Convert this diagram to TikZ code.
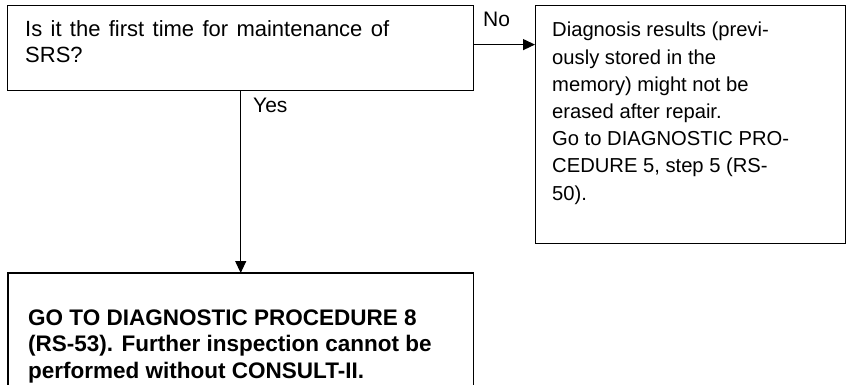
\documentclass[tikz,border=0pt]{standalone}
\usepackage{fontspec}
\setmainfont{Liberation Sans}
\usetikzlibrary{arrows.meta}
\begin{document}
\begin{tikzpicture}[x=1pt,y=-1pt,
  box/.style={draw, line width=1.2pt, inner sep=0pt, anchor=north west},
  openbox/.style={inner sep=0pt, anchor=north west},
  txt/.style={anchor=base west, inner sep=0pt, align=left},
  lbl/.style={anchor=base west, inner sep=0pt, font=\fontsize{21}{26}\selectfont},
  arr/.style={line width=1.2pt, -{Triangle[length=12pt,width=11pt]}}]
\useasboundingbox (0,0) rectangle (846,385);
% boxes
\node[box, minimum width=466pt, minimum height=85pt] (b1) at (7,5) {};
\node[box, minimum width=310pt, minimum height=238pt] (b2) at (535,5) {};
\node[openbox, minimum width=465pt, minimum height=122pt] (b3) at (8,273) {};
\draw[line width=1.2pt] (b3.south west) -- (b3.north west) -- (b3.north east) -- (b3.south east);
% texts (base anchor = last line's baseline)
\node[txt, font=\fontsize{22}{26}\selectfont] (t1) at (25,63) {\makebox[364pt][s]{Is it the first time for maintenance of}\\SRS?};
\node[txt, font=\fontsize{20.2}{27.2}\selectfont] (t2) at (552,200) {Diagnosis results (previ-\\ously stored in the\\memory) might not be\\erased after repair.\\Go to DIAGNOSTIC PRO-\\CEDURE 5, step 5 (RS-\\50).};
\node[txt, font=\fontsize{22.5}{26.5}\selectfont\bfseries] (t3) at (28,378) {GO TO DIAGNOSTIC PROCEDURE 8\\(RS-53). Further inspection cannot be\\performed without CONSULT-II.};
% connectors
\draw[arr] ([yshift=3.5pt]b1.east) -- ([yshift=3.5pt]b1.east -| b2.west);
\draw[arr] (b3.north |- b1.south) -- (b3.north);
% labels
\node[lbl] (no) at (483,27) {No};
\node[lbl] (yes) at (253,113) {Yes};
\end{tikzpicture}
\end{document}
